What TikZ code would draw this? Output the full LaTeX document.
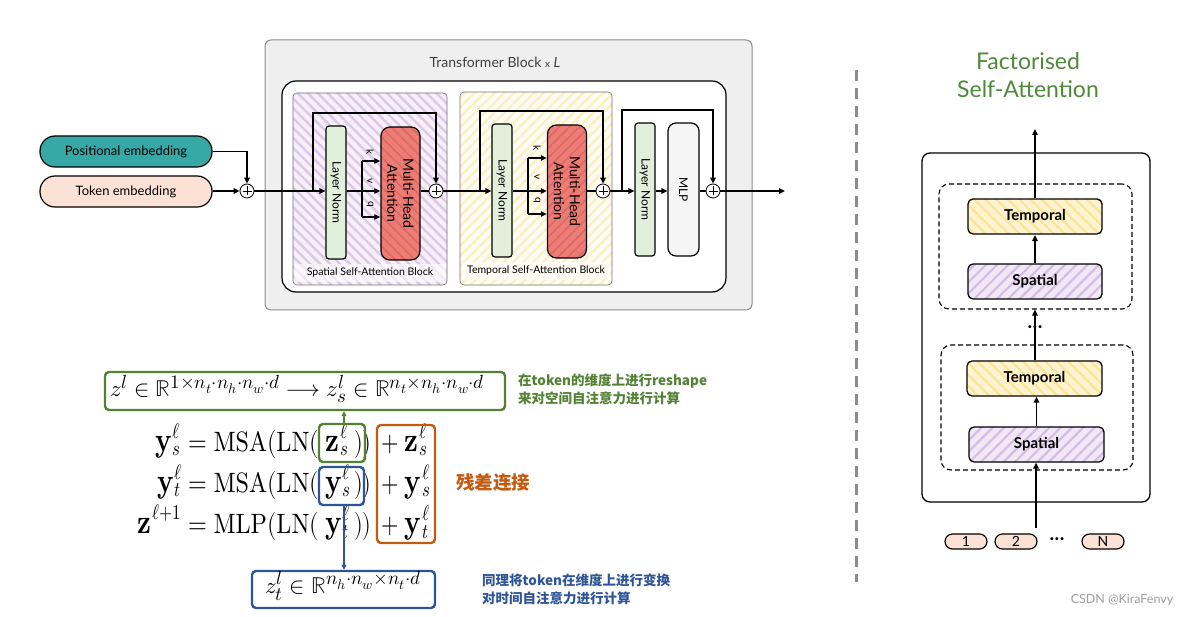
\documentclass[tikz,border=0pt]{standalone}
\usepackage{amsmath}
\usepackage{fontspec}
\usepackage{unicode-math}
\setmainfont{Lato}
\setmathfont{latinmodern-math.otf}
\setmathrm{lmroman10-regular.otf}[BoldFont=lmroman10-bold.otf]
\DeclareMathSizes{28}{28}{21}{16}
\DeclareMathSizes{23}{23}{19}{14}
\newfontfamily\cjk{Noto Sans CJK SC}
\newcommand{\BL}[1]{\mbox{\fontsize{34}{36}\selectfont$\mathbf{#1}$}}
\newcommand{\BLss}[3]{\BL{#1}\mkern1mu\mbox{\rlap{\raisebox{13pt}{$\scriptstyle #2$}}\raisebox{-5pt}{$\scriptstyle #3$}}}
\newcommand{\BLsup}[2]{\BL{#1}\mkern1mu\mbox{\raisebox{14pt}{$\scriptstyle #2$}}}
\usetikzlibrary{arrows.meta,patterns.meta,calc}
\definecolor{teal1}{HTML}{36A8A6}
\definecolor{peach}{HTML}{FBE2D5}
\definecolor{lngreen}{HTML}{E2EFDA}
\definecolor{mhared}{HTML}{EC7D76}
\definecolor{mhahatch}{HTML}{DE6760}
\definecolor{spbg}{HTML}{F7F0F9}
\definecolor{sphatch}{HTML}{DDC8E9}
\definecolor{tpbg}{HTML}{FFFDF3}
\definecolor{tphatch}{HTML}{FBEFC6}
\definecolor{graybg}{HTML}{EFEFEF}
\definecolor{grayline}{HTML}{8C8C8C}
\definecolor{eqgreen}{HTML}{548235}
\definecolor{eqblue}{HTML}{2F5597}
\definecolor{eqorange}{HTML}{C55A11}
\definecolor{titlegreen}{HTML}{4F8A3A}
\definecolor{rsbg}{HTML}{FFF4D0}
\definecolor{rshatch}{HTML}{FCE39A}
\definecolor{rpbg}{HTML}{F1E8F6}
\definecolor{rphatch}{HTML}{D6BCE6}
\tikzset{
  conn/.style={line width=1.4pt, draw=black},
  arr/.style={conn, -{Triangle[length=6pt,width=5.5pt]}},
  plusnode/.style={circle, draw, line width=0.8pt, fill=white, minimum size=14pt, inner sep=0pt,
    path picture={\draw[line width=0.8pt] ([xshift=-4.5pt]path picture bounding box.center) -- ([xshift=4.5pt]path picture bounding box.center);
                  \draw[line width=0.8pt] ([yshift=-4.5pt]path picture bounding box.center) -- ([yshift=4.5pt]path picture bounding box.center);}},
  pill/.style={draw, line width=1.2pt, rounded corners=15pt, inner sep=0pt, minimum width=172pt, minimum height=31pt, font=\fontsize{13}{15}\selectfont},
  lnbox/.style={draw, line width=1.2pt, fill=lngreen, rounded corners=3pt, minimum width=20pt, minimum height=133pt, inner sep=0pt},
  mhabox/.style={draw, line width=1.2pt, rounded corners=9pt, minimum width=39pt, minimum height=133pt, inner sep=0pt,
    preaction={fill=mhared}, pattern color=mhahatch},
  mlpbox/.style={draw, line width=1.2pt, fill=white!96!black, rounded corners=8pt, minimum width=31pt, minimum height=133pt, inner sep=0pt},
  rotlabel/.style={rotate=-90, font=\fontsize{12}{14}\selectfont, inner sep=0pt, align=center},
  kvq/.style={rotate=-90, font=\fontsize{10}{12}\selectfont, inner sep=0pt},
  blocklabel/.style={font=\fontsize{10.5}{12}\selectfont, inner sep=1pt},
  eqbox/.style={draw, line width=2.4pt, rounded corners=4pt, inner sep=0pt},
  eqrow/.style={font=\fontsize{28}{30}\selectfont, inner sep=0pt, xscale=0.8},
  eqmid/.style={font=\fontsize{28}{30}\selectfont, inner sep=0pt, xscale=0.86},
  eqsmall/.style={font=\fontsize{23}{26}\selectfont, inner sep=0pt},
  rbox/.style={draw, line width=1.3pt, rounded corners=5pt, minimum width=134pt, minimum height=35pt, inner sep=0pt, font=\fontsize{15}{17}\selectfont\bfseries},
  dbox/.style={draw, dashed, dash pattern=on 5pt off 3pt, line width=1.1pt, rounded corners=10pt, minimum width=193pt, minimum height=125pt, inner sep=0pt},
  tokpill/.style={draw, line width=1.2pt, fill=peach, rounded corners=7.5pt, minimum width=42pt, minimum height=15pt, inner sep=0pt, font=\fontsize{14}{16}\selectfont},
  dots/.style={inner sep=0pt, font=\fontsize{8}{8}\selectfont},
}
\begin{document}
\begin{tikzpicture}[x=1pt,y=-1pt]
\useasboundingbox[fill=white] (0,0) rectangle (1197,617);

% ---------- Transformer block ----------
\node[draw=grayline, line width=1pt, fill=graybg, rounded corners=6pt, minimum width=487pt, minimum height=270pt, inner sep=0pt] (gray) at (508.5,175) {};
\node[text=black!75, inner sep=0pt] (gtitle) at (495,62) {\fontsize{14}{16}\selectfont Transformer Block {\fontsize{10}{12}\selectfont x} \textit{L}};
\node[draw, line width=1.2pt, fill=white, rounded corners=14pt, minimum width=444pt, minimum height=211pt, inner sep=0pt] (wbox) at (504,186.5) {};

\node[draw=black!55, line width=0.6pt, rounded corners=4pt, minimum width=154pt, minimum height=192pt, inner sep=0pt,
  preaction={fill=spbg}, pattern={Lines[angle=-45,distance=7pt,line width=2.4pt]}, pattern color=sphatch] (spb) at (370,189) {};
\node[draw=black!55, line width=0.6pt, rounded corners=4pt, minimum width=152pt, minimum height=193pt, inner sep=0pt,
  preaction={fill=tpbg}, pattern={Lines[angle=45,distance=7pt,line width=2.4pt]}, pattern color=tphatch] (tpb) at (536,188.5) {};
\node[blocklabel, fill=white, fill opacity=0.6, text opacity=1, minimum width=152pt, minimum height=18pt] (spl) at (370,273) {Spatial Self-Attention Block};
\node[blocklabel, fill=white, fill opacity=0.6, text opacity=1, minimum width=150pt, minimum height=18pt] (tpl) at (536,271) {Temporal Self-Attention Block};

% embeddings
\node[pill, fill=teal1] (pos) at (126,151.5) {Positional embedding};
\node[pill, fill=peach] (tok) at (126,191.5) {Token embedding};
\node[plusnode] (p0) at (247,191) {};

% spatial
\node[lnbox] (ln1) at (336,192.5) {};
\node[rotlabel] (ln1t) at (ln1) {Layer Norm};
\node[mhabox, pattern={Lines[angle=-45,distance=7pt,line width=1.5pt]}] (mha1) at (400.5,193.5) {};
\node[rotlabel, font=\fontsize{14}{16}\selectfont] (mha1t) at (mha1) {Multi-Head\\Attention};
\node[plusnode] (p1) at (436,191) {};

% temporal
\node[lnbox] (ln2) at (502,190.5) {};
\node[rotlabel] (ln2t) at (ln2) {Layer Norm};
\node[mhabox, pattern={Lines[angle=45,distance=7pt,line width=1.5pt]}] (mha2) at (567,191.5) {};
\node[rotlabel, font=\fontsize{14}{16}\selectfont] (mha2t) at (mha2) {Multi-Head\\Attention};
\node[plusnode] (p2) at (603,191) {};

% mlp
\node[lnbox] (ln3) at (645,189.5) {};
\node[rotlabel] (ln3t) at (ln3) {Layer Norm};
\node[mlpbox] (mlp) at (683.5,189.5) {};
\node[rotlabel] (mlpt) at (mlp) {MLP};
\node[plusnode] (p3) at (713,191) {};
\coordinate (out) at (785,191);

% connectors
\draw[arr] (pos.east) -| (p0.north);
\draw[arr] (tok.east |- p0) -- (p0.west);
\draw[arr] (p0.east) -- (p0 -| ln1.west);
\coordinate (r1) at (313,191);
\draw[arr] (r1) -- ++(0,-78) -| (p1.north);
\draw[arr] (ln1.east |- p0) -- (p0 -| mha1.west);
\coordinate (k1) at (362,161); \coordinate (q1) at (362,217);
\draw[conn] (k1) -- (q1);
\draw[arr] (k1) -- (k1 -| mha1.west);
\draw[arr] (q1) -- (q1 -| mha1.west);
\node[kvq] (k1t) at (370,152) {k};
\node[kvq] (v1t) at (370,181) {v};
\node[kvq] (q1t) at (370,204) {q};
\draw[conn] (mha1.east |- p1) -- (p1.west);
\draw[arr] (p1.east) -- (p1 -| ln2.west);
\coordinate (r2) at (480,191);
\draw[arr] (r2) -- ++(0,-80) -| (p2.north);
\draw[arr] (ln2.east |- p1) -- (p1 -| mha2.west);
\coordinate (k2) at (528,158); \coordinate (q2) at (528,214);
\draw[conn] (k2) -- (q2);
\draw[arr] (k2) -- (k2 -| mha2.west);
\draw[arr] (q2) -- (q2 -| mha2.west);
\node[kvq] (k2t) at (537,148) {k};
\node[kvq] (v2t) at (537,177) {v};
\node[kvq] (q2t) at (537,200) {q};
\draw[conn] (mha2.east |- p2) -- (p2.west);
\draw[arr] (p2.east) -- (p2 -| ln3.west);
\coordinate (r3) at (622,191);
\draw[arr] (r3) -- ++(0,-81) -| (p3.north);
\draw[arr] (ln3.east |- p2) -- (p2 -| mlp.west);
\draw[conn] (mlp.east |- p3) -- (p3.west);
\draw[arr] (p3.east) -- (out);

% ---------- Equations ----------
\node[eqbox, draw=eqgreen, minimum width=400pt, minimum height=38pt] (topbox) at (305,391) {};
\node[eqsmall, anchor=base west] (toptxt) at (110,397)
  {$z^l \in \mathbb{R}^{1\times n_t\cdot n_h\cdot n_w\cdot d} \longrightarrow z_s^l \in \mathbb{R}^{n_t\times n_h\cdot n_w\cdot d}$};

% row 1
\node[eqrow, anchor=base east] (e1a) at (181,451) {$\BLss{y}{\ell}{s}$};
\node[eqmid, anchor=base west] (e1b) at (188,451) {$=\mathrm{MSA}(\mathrm{LN}($};
\node[eqrow, anchor=base west] (e1c) at (325,451) {$\BLss{z}{\ell}{s}$};
\node[eqrow, anchor=base west] (e1d) at (354,451) {$))$};
\node[eqrow, anchor=base west] (e1e) at (381,451) {$+\mkern5mu\BLss{z}{\ell}{s}$};
% row 2
\node[eqrow, anchor=base east] (e2a) at (181,492) {$\BLss{y}{\ell}{t}$};
\node[eqmid, anchor=base west] (e2b) at (188,492) {$=\mathrm{MSA}(\mathrm{LN}($};
\node[eqrow, anchor=base west] (e2c) at (325,492) {$\BLss{y}{\ell}{s}$};
\node[eqrow, anchor=base west] (e2d) at (354,492) {$))$};
\node[eqrow, anchor=base west] (e2e) at (381,492) {$+\mkern5mu\BLss{y}{\ell}{s}$};
% row 3
\node[eqrow, anchor=base east] (e3a) at (181,533) {$\BLsup{z}{\ell+1}$};
\node[eqmid, anchor=base west] (e3b) at (188,533) {$=\mathrm{MLP}(\mathrm{LN}($};
\node[eqrow, anchor=base west] (e3c) at (325,533) {$\BLss{y}{\ell}{t}$};
\node[eqrow, anchor=base west] (e3d) at (354,533) {$))$};
\node[eqrow, anchor=base west] (e3e) at (381,533) {$+\mkern5mu\BLss{y}{\ell}{t}$};

\node[eqbox, draw=eqgreen, minimum width=46pt, minimum height=38pt] (gsm) at (342,443) {};
\node[eqbox, draw=eqblue, minimum width=45pt, minimum height=38pt] (bsm) at (341.5,486) {};
\node[eqbox, draw=eqorange, minimum width=58pt, minimum height=118pt] (osm) at (406,484) {};
\node[eqbox, draw=eqblue, minimum width=183pt, minimum height=37pt] (botbox) at (343.5,589.5) {};
\node[eqsmall, anchor=base west] (bottxt) at (265,593)
  {$z_t^l \in \mathbb{R}^{n_h\cdot n_w\times n_t\cdot d}$};

\draw[line width=1.6pt, draw=eqgreen, -{Triangle[length=5pt,width=5pt]}] (gsm.north -| 344,0) -- (topbox.south -| 344,0);
\draw[line width=1.6pt, draw=eqblue, -{Triangle[length=5pt,width=5pt]}] (bsm.south -| 344,0) -- (botbox.north -| 344,0);

\node[anchor=west, align=left, text=eqgreen, inner sep=0pt, font=\cjk\bfseries\fontsize{13.5}{18}\selectfont] (gnote) at (518,389)
  {在token的维度上进行reshape\\来对空间自注意力进行计算};
\node[anchor=west, align=left, text=eqblue, inner sep=0pt, font=\cjk\bfseries\fontsize{13.5}{18}\selectfont] (bnote) at (482,589)
  {同理将token在维度上进行变换\\对时间自注意力进行计算};
\node[anchor=west, text=eqorange, inner sep=0pt, font=\cjk\bfseries\fontsize{18.5}{20}\selectfont] (onote) at (456,483) {残差连接};

% ---------- Right panel ----------
\draw[line width=3pt, draw=black!45, dash pattern=on 11pt off 7pt] (856,70) -- (856,582);
\node[text=titlegreen, align=center, inner sep=0pt, font=\fontsize{23}{28}\selectfont] (rtitle) at (1028,75) {Factorised\\Self-Attention};
\node[draw, line width=1.3pt, rounded corners=8pt, minimum width=228pt, minimum height=349pt, inner sep=0pt] (rbox) at (1036,327.5) {};
\node[dbox] (d1) at (1035.5,246.5) {};
\node[dbox, minimum width=192pt] (d2) at (1037,407.5) {};
\node[rbox, preaction={fill=rsbg}, pattern={Lines[angle=-45,distance=8pt,line width=2.2pt]}, pattern color=rshatch] (T1) at (1035,216.5) {Temporal};
\node[rbox, preaction={fill=rpbg}, pattern={Lines[angle=45,distance=8pt,line width=2.2pt]}, pattern color=rphatch] (S1) at (1035,281.5) {Spatial};
\node[rbox, minimum width=135pt, preaction={fill=rsbg}, pattern={Lines[angle=-45,distance=8pt,line width=2.2pt]}, pattern color=rshatch] (T2) at (1034.5,378.5) {Temporal};
\node[rbox, minimum width=135pt, preaction={fill=rpbg}, pattern={Lines[angle=45,distance=8pt,line width=2.2pt]}, pattern color=rphatch] (S2) at (1036.5,444.5) {Spatial};
\coordinate (rtop) at (1035,129);
\coordinate (rin) at (1036,528);
\draw[arr] (T1.north) -- (rtop);
\draw[arr] (S1.north) -- (T1.south);
\draw[arr] (T2.north -| 1035,0) -- (d1.south -| 1035,0);
\node[dots] (rdots) at (1035,328) {\textbullet\kern0.5pt\textbullet\kern0.5pt\textbullet};
\draw[arr] (S2.north) -- (T2.south -| S2.north);
\draw[arr] (rin) -- (rin |- S2.south);
\node[tokpill] (tk1) at (966,541.5) {1};
\node[tokpill] (tk2) at (1016,541.5) {2};
\node[dots] (tkd) at (1057,540) {\textbullet\kern0.5pt\textbullet\kern0.5pt\textbullet};
\node[tokpill] (tkN) at (1103,541.5) {N};
\node[text=black!38, inner sep=0pt, font=\fontsize{12.5}{14}\selectfont] (wm) at (1122,600) {CSDN @KiraFenvy};
\end{tikzpicture}
\end{document}
